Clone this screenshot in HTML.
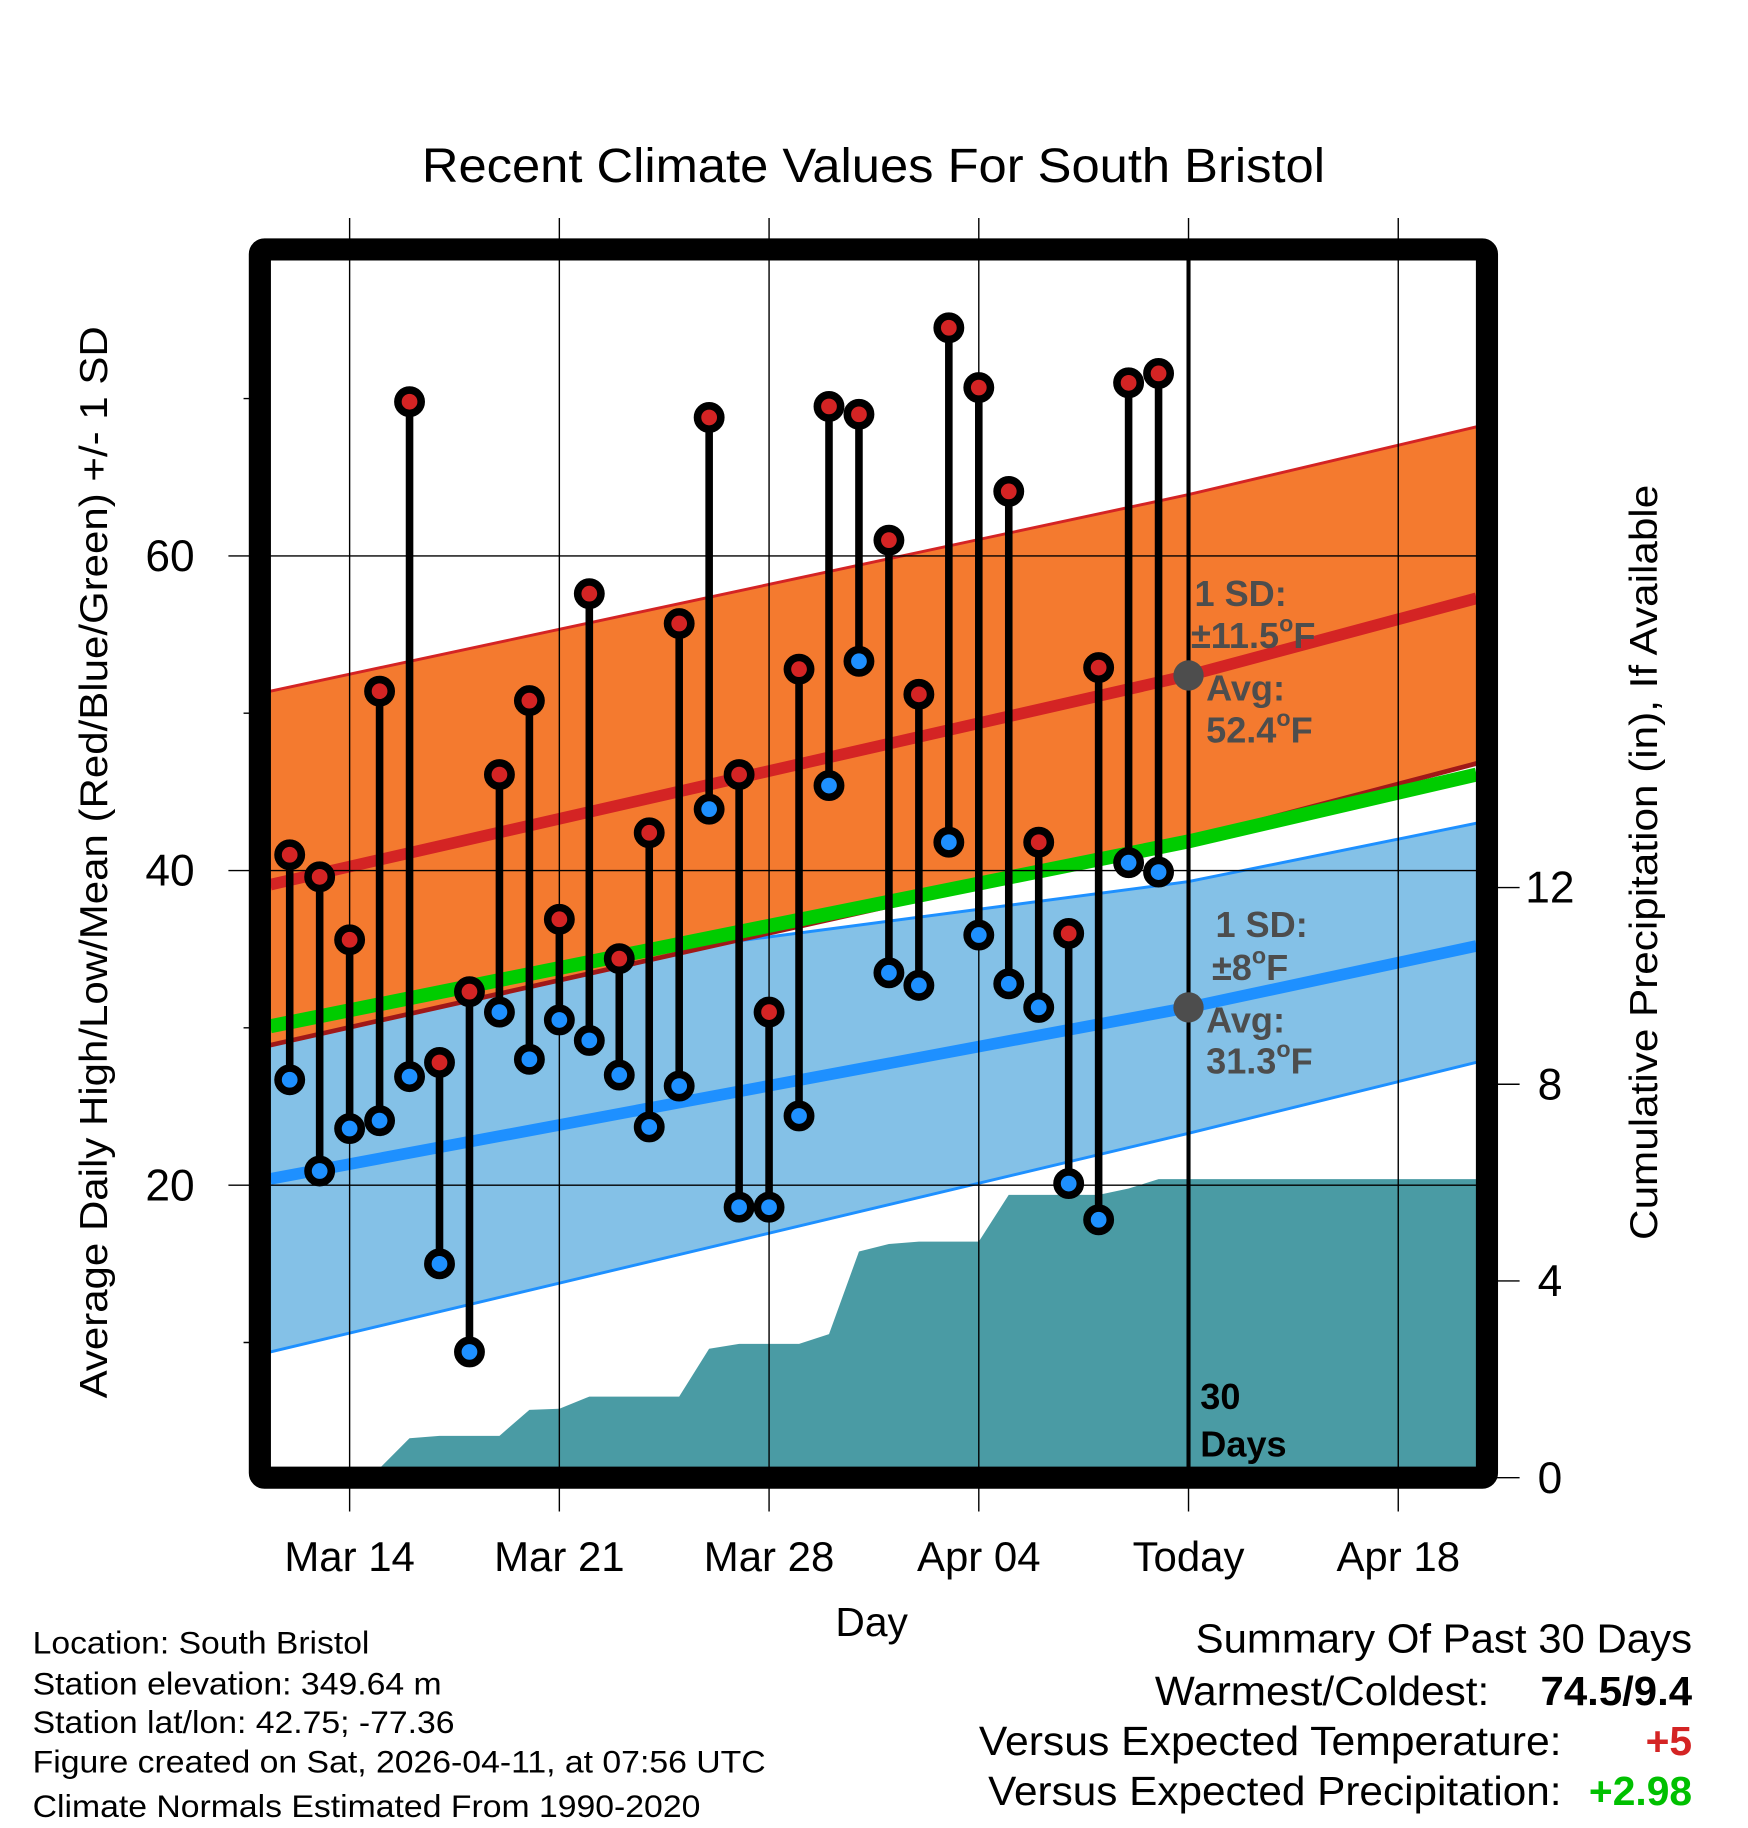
<!DOCTYPE html>
<html><head><meta charset="utf-8"><title>Recent Climate Values For South Bristol</title>
<style>html,body{margin:0;padding:0;background:#fff}svg{display:block}text{font-family:"Liberation Sans",Arial,sans-serif}</style>
</head><body>
<svg id="chart" xmlns="http://www.w3.org/2000/svg" width="1748" height="1828" viewBox="0 0 1500 1568.6">
<g id="bg"></g>
</svg>
<script>
// ---- data ----
const dayLabels = ["Mar 14","Mar 21","Mar 28","Apr 04","Today","Apr 18"];
const dayTickIdx = [2, 9, 16, 23, 30, 37]; // day index from Mar 12
const highs = [41.0,39.6,35.6,51.4,69.8,27.8,32.3,46.1,50.8,36.9,57.6,34.4,42.4,55.7,68.8,46.1,31.0,52.8,69.5,69.0,61.0,51.2,74.5,70.7,64.1,41.8,36.0,52.9,71.0,71.6];
const lows  = [26.7,20.9,23.6,24.1,26.9,15.0,9.4,31.0,28.0,30.5,29.2,27.0,23.7,26.3,43.9,18.6,18.6,24.4,45.4,53.3,33.5,32.7,41.8,35.9,32.8,31.3,20.1,17.8,40.5,39.9];
const precip = [0.02,0.03,0.05,0.05,0.8,0.85,0.85,0.85,1.38,1.4,1.65,1.65,1.65,1.65,2.62,2.72,2.72,2.72,2.92,4.6,4.75,4.8,4.8,4.8,5.75,5.75,5.75,5.75,5.88,6.07];
const normDays = [-0.65, 30, 39.6];
const normHigh = [39.1, 52.4, 57.3];
const normHighTop = [51.4, 63.9, 68.2];
const normHighBot = [28.9, 42.0, 46.8];
const normMean = [30.1, 41.85, 46.1];
const normLow = [20.4, 31.3, 35.2];
const normLowTop = [31.6, 39.3, 43.0];
const normLowBot = [9.4, 23.3, 27.8];
const yTicks = [20, 40, 60];
const yMinor = [10, 30, 50, 70];
const pTicks = [0, 4, 8, 12];

// ---- axes ----
const X0 = 248.6, DX = 25.71;
const x = d => X0 + d*DX;
const y = t => 1287 - t*13.5;
const L = 232, R = 1267, T = 223, B = 1260;
const yp = p => Math.min(B, 1268 - p*42.2);
const svg = document.getElementById('chart');
const NS = "http://www.w3.org/2000/svg";
function mk(tag, attrs, parent){ const e=document.createElementNS(NS,tag); for(const k in attrs) e.setAttribute(k,attrs[k]); (parent||svg).appendChild(e); return e; }
function txt(s, attrs){ const e=mk('text',attrs); e.textContent=s; return e; }
function interp(arr, d){ for(let i=0;i<normDays.length-1;i++){ if(d<=normDays[i+1]||i==normDays.length-2){ const f=(d-normDays[i])/(normDays[i+1]-normDays[i]); return arr[i]+f*(arr[i+1]-arr[i]); } } }
const dL = (L-X0)/DX, dR = (R-X0)/DX;
function lineThrough(arr){ const pts=[dL, normDays[1], dR].map(d=>x(d).toFixed(1)+','+y(interp(arr,d)).toFixed(1)); return pts; }
function band(top, bot){ const a=lineThrough(top), b=lineThrough(bot).reverse(); return 'M'+a.join('L')+'L'+b.join('L')+'Z'; }

let e;
// low band
e = mk('path',{d:band(normLowTop,normLowBot),fill:'#84C1E7',stroke:'none'});
 
e = mk('polyline',{points:lineThrough(normLowTop).join(' '),fill:'none',stroke:'#1E90FF','stroke-width':2.5});
 
e = mk('polyline',{points:lineThrough(normLowBot).join(' '),fill:'none',stroke:'#1E90FF','stroke-width':2.5});
 
// high band
e = mk('path',{d:band(normHighTop,normHighBot),fill:'#F47A2F',stroke:'none'});
 
e = mk('polyline',{points:lineThrough(normHighTop).join(' '),fill:'none',stroke:'#D42424','stroke-width':2.5});
 
e = mk('polyline',{points:lineThrough(normHighBot).join(' '),fill:'none',stroke:'#A01818','stroke-width':4});
 
// precip area
let pd = 'M'+L+','+B+'L'+L+','+yp(0).toFixed(1);
precip.forEach((p,i)=>{ pd += 'L'+x(i).toFixed(1)+','+yp(p).toFixed(1); });
pd += 'L'+x(30).toFixed(1)+','+yp(precip[precip.length-1]).toFixed(1)+'L'+R+','+yp(precip[precip.length-1]).toFixed(1)+'L'+R+','+B+'Z';
e = mk('path',{d:pd,fill:'#4A9BA4'});
 
// normal lines
e = mk('polyline',{points:lineThrough(normMean).join(' '),fill:'none',stroke:'#00CC00','stroke-width':12});
 
e = mk('polyline',{points:lineThrough(normHigh).join(' '),fill:'none',stroke:'#D42424','stroke-width':10});
 
e = mk('polyline',{points:lineThrough(normLow).join(' '),fill:'none',stroke:'#1E90FF','stroke-width':10});
 

// grid
dayTickIdx.forEach((d,i)=>{
  e = mk('line',{x1:x(d),x2:x(d),y1:187,y2:1297,stroke:'#000','stroke-width':1.2});
   
  e = txt(dayLabels[i],{x:x(d),y:1348,'font-size':36,'text-anchor':'middle',fill:'#000'});
   
});
yTicks.forEach(t=>{
  e = mk('line',{x1:196,x2:R,y1:y(t),y2:y(t),stroke:'#000','stroke-width':1.2});
   
  e = txt(String(t),{x:167,y:y(t)+13,'font-size':38,'text-anchor':'end',fill:'#000'});
   
});
yMinor.forEach(t=>{
  e = mk('line',{x1:209,x2:225,y1:y(t),y2:y(t),stroke:'#000','stroke-width':1.2});
   
});
pTicks.forEach(p=>{
  const yy = 1268 - p*42.2;
  e = mk('line',{x1:1280,x2:1304,y1:yy,y2:yy,stroke:'#000','stroke-width':1.2});
   
  e = txt(String(p),{x:1330,y:yy+13,'font-size':38,'text-anchor':'middle',fill:'#000'});
   
});

// stems and points
highs.forEach((h,i)=>{
  const g = mk('g',{});
   
  e = mk('line',{x1:x(i),x2:x(i),y1:y(h),y2:y(lows[i]),stroke:'#000','stroke-width':6.5},g);
   
  e = mk('circle',{cx:x(i),cy:y(h),r:10,fill:'#D42424',stroke:'#000','stroke-width':6.5},g);
   
  e = mk('circle',{cx:x(i),cy:y(lows[i]),r:10,fill:'#1E90FF',stroke:'#000','stroke-width':6.5},g);
   
});

// today line
e = mk('line',{x1:x(30),x2:x(30),y1:T,y2:B,stroke:'#000','stroke-width':3.5});
 
e = mk('circle',{cx:x(30),cy:y(normHigh[1]),r:13,fill:'#4D4D4D'});
 
e = mk('circle',{cx:x(30),cy:y(normLow[1]),r:13,fill:'#4D4D4D'});
 

// frame
e = mk('rect',{x:223,y:214,width:1053,height:1054,fill:'none',stroke:'#000','stroke-width':19,rx:4});
 
</script>
<script>
const s2 = document.getElementById('chart');
s2.insertAdjacentHTML('beforeend', `
<text x="362" y="156" font-size="41" textLength="775" lengthAdjust="spacingAndGlyphs">Recent Climate Values For South Bristol</text>
<text transform="translate(92,740) rotate(-90)" font-size="33" text-anchor="middle" textLength="920" lengthAdjust="spacingAndGlyphs">Average Daily High/Low/Mean (Red/Blue/Green) +/- 1 SD</text>
<text transform="translate(1422,740) rotate(-90)" font-size="33" text-anchor="middle" textLength="648" lengthAdjust="spacingAndGlyphs">Cumulative Precipitation (in), If Available</text>
<text x="748" y="1404" font-size="35" text-anchor="middle">Day</text>
<g fill="#4D4D4D" font-weight="bold" font-size="31">
<text x="1025" y="520">1 SD:</text>
<text x="1022" y="556">±11.5<tspan font-size="20" dy="-14">o</tspan><tspan dy="14">F</tspan></text>
<text x="1035" y="601">Avg:</text>
<text x="1035" y="637">52.4<tspan font-size="20" dy="-14">o</tspan><tspan dy="14">F</tspan></text>
</g>
<g fill="#4D4D4D" font-weight="bold" font-size="31">
<text x="1043" y="804">1 SD:</text>
<text x="1040" y="841">±8<tspan font-size="20" dy="-14">o</tspan><tspan dy="14">F</tspan></text>
<text x="1035" y="886">Avg:</text>
<text x="1035" y="921">31.3<tspan font-size="20" dy="-14">o</tspan><tspan dy="14">F</tspan></text>
</g>
<text x="1030" y="1209" font-size="31" font-weight="bold">30</text>
<text x="1030" y="1250" font-size="31" font-weight="bold">Days</text>
<g font-size="27" fill="#000">
<text x="28" y="1419" textLength="289" lengthAdjust="spacingAndGlyphs">Location: South Bristol</text>
<text x="28" y="1454" textLength="351" lengthAdjust="spacingAndGlyphs">Station elevation: 349.64 m</text>
<text x="28" y="1487" textLength="362" lengthAdjust="spacingAndGlyphs">Station lat/lon: 42.75; -77.36</text>
<text x="28" y="1521" textLength="629" lengthAdjust="spacingAndGlyphs">Figure created on Sat, 2026-04-11, at 07:56 UTC</text>
<text x="28" y="1559" textLength="573" lengthAdjust="spacingAndGlyphs">Climate Normals Estimated From 1990-2020</text>
</g>
<g font-size="35" fill="#000">
<text x="1026" y="1418" textLength="426" lengthAdjust="spacingAndGlyphs">Summary Of Past 30 Days</text>
<text x="991" y="1463" textLength="287" lengthAdjust="spacingAndGlyphs">Warmest/Coldest:</text>
<text x="1322" y="1463" font-weight="bold" textLength="130" lengthAdjust="spacingAndGlyphs">74.5/9.4</text>
<text x="840" y="1506" textLength="500" lengthAdjust="spacingAndGlyphs">Versus Expected Temperature:</text>
<text x="1452" y="1506" text-anchor="end" font-weight="bold" fill="#D42424">+5</text>
<text x="848" y="1549" textLength="492" lengthAdjust="spacingAndGlyphs">Versus Expected Precipitation:</text>
<text x="1452" y="1549" text-anchor="end" font-weight="bold" fill="#00C000">+2.98</text>
</g>`);
</script>
</body></html>
